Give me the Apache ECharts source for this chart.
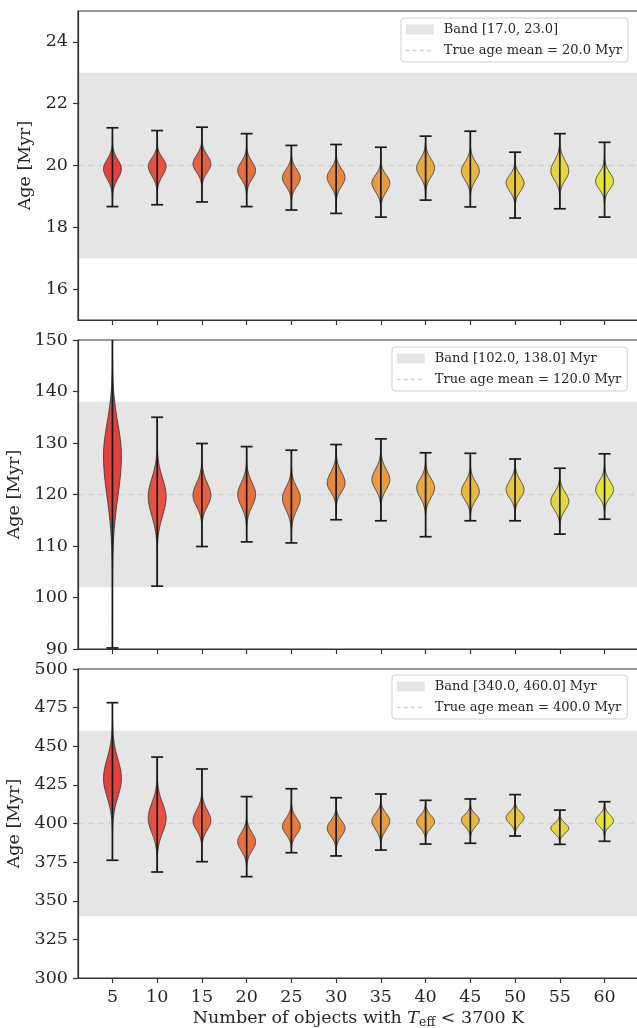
<!DOCTYPE html>
<html>
<head>
<meta charset="utf-8">
<script src="https://cdn.jsdelivr.net/npm/echarts@6/dist/echarts.min.js"></script>
<style>
  html, body { margin: 0; padding: 0; background: #fff; }
  #chart { width: 637px; height: 1028px; }
</style>
</head>
<body>
<div id="chart"></div>
<script>
const FONT = 'DejaVu Serif'
const TXT = '#262626'

// x positions (number of objects)
const counts = [5, 10, 15, 20, 25, 30, 35, 40, 45, 50, 55, 60]

// panel 1: true age 20 Myr
const p1Max = [21.22, 21.13, 21.24, 21.03, 20.65, 20.68, 20.59, 20.95, 21.11, 20.43, 21.03, 20.75]
const p1Min = [18.67, 18.73, 18.82, 18.67, 18.56, 18.45, 18.33, 18.88, 18.66, 18.30, 18.60, 18.33]
const p1Peak = [19.89, 19.98, 20.05, 19.84, 19.60, 19.62, 19.44, 19.92, 19.82, 19.44, 19.82, 19.49]
const p1SdUp = [0.30, 0.26, 0.28, 0.28, 0.27, 0.27, 0.25, 0.29, 0.29, 0.25, 0.33, 0.27]
const p1SdDn = [0.32, 0.31, 0.27, 0.28, 0.27, 0.29, 0.29, 0.29, 0.29, 0.27, 0.29, 0.25]
const p1Band = [17.0, 23.0]
const p1Mean = 20.0
const p1Ticks = [16, 18, 20, 22, 24]

// panel 2: true age 120 Myr
const p2Max = [152, 135.0, 129.9, 129.3, 128.6, 129.7, 130.8, 128.1, 128.0, 126.9, 125.1, 127.9]
const p2Min = [90.2, 102.2, 109.9, 110.8, 110.6, 115.1, 114.9, 111.8, 114.9, 114.9, 112.3, 115.2]
const p2Peak = [127.5, 119.6, 119.8, 120.0, 119.3, 122.2, 122.9, 121.3, 120.6, 120.9, 118.7, 120.9]
const p2SdUp = [6.3, 3.5, 2.4, 2.3, 2.1, 2.1, 2.0, 1.8, 1.8, 1.8, 1.7, 1.7]
const p2SdDn = [7.9, 3.7, 2.1, 2.3, 2.3, 1.7, 1.9, 1.9, 1.7, 1.6, 1.7, 1.5]
const p2Band = [102.0, 138.0]
const p2Mean = 120.0
const p2Ticks = [90, 100, 110, 120, 130, 140, 150]

// panel 3: true age 400 Myr
const p3Max = [478.2, 443.0, 435.3, 417.4, 422.5, 416.7, 419.1, 415.0, 415.9, 418.7, 408.7, 414.1]
const p3Min = [376.2, 368.6, 375.3, 365.6, 381.1, 379.0, 382.8, 386.7, 387.2, 391.9, 386.5, 388.5]
const p3Peak = [429.0, 403.4, 401.8, 388.2, 398.0, 396.9, 401.8, 401.2, 402.3, 403.8, 396.9, 401.8]
const p3SdUp = [12.8, 9.7, 6.8, 5.8, 5.4, 4.9, 4.7, 4.1, 3.6, 3.7, 3.2, 3.8]
const p3SdDn = [11.8, 9.3, 6.0, 5.8, 5.0, 5.0, 5.6, 4.1, 4.1, 3.8, 3.2, 3.5]
const p3Band = [340.0, 460.0]
const p3Mean = 400.0
const p3Ticks = [300, 325, 350, 375, 400, 425, 450, 475, 500]

const violinColors = ['#e53f3e', '#e5523f', '#e5603e', '#e6703f', '#e67d3f', '#e78a40',
  '#e79a40', '#e7a940', '#e6b840', '#e6c73f', '#e5d63f', '#e5e43e']

const X_MIN = 1.15
const X_MAX = 63.85

const panels = [
  { max: p1Max, min: p1Min, peak: p1Peak, up: p1SdUp, dn: p1SdDn, band: p1Band, mean: p1Mean, ticks: p1Ticks,
    yMin: 15, yMax: 25, top: 11, bandName: 'Band [17.0, 23.0]', meanName: 'True age mean = 20.0 Myr',
    legendLeft: 401, legendTop: 18, nameGap: 35 },
  { max: p2Max, min: p2Min, peak: p2Peak, up: p2SdUp, dn: p2SdDn, band: p2Band, mean: p2Mean, ticks: p2Ticks,
    yMin: 90, yMax: 150, top: 340, bandName: 'Band [102.0, 138.0] Myr', meanName: 'True age mean = 120.0 Myr',
    legendLeft: 392, legendTop: 347, nameGap: 46 },
  { max: p3Max, min: p3Min, peak: p3Peak, up: p3SdUp, dn: p3SdDn, band: p3Band, mean: p3Mean, ticks: p3Ticks,
    yMin: 300, yMax: 500, top: 669, bandName: 'Band [340.0, 460.0] Myr', meanName: 'True age mean = 400.0 Myr',
    legendLeft: 392, legendTop: 675, nameGap: 46 },
]

// violin body + min/max bars
function renderViolin(params, api) {
  const x = api.value(0)
  const lo = api.value(1)
  const hi = api.value(2)
  const pk = api.value(3)
  const su = api.value(4)
  const sd = api.value(5)
  const half = api.size([1, 0])[0] // widths = 2 data units
  const ys = []
  const steps = 120
  for (let i = 0; i <= steps; i++) ys.push(lo + (hi - lo) * i / steps)
  ys.push(pk)
  ys.sort((a, b) => a - b)
  const right = []
  const left = []
  ys.forEach((y) => {
    const s = y > pk ? su : sd
    const w = half * Math.exp(-0.5 * Math.pow((y - pk) / s, 2))
    const p = api.coord([x, y])
    right.push([p[0] + w, p[1]])
    left.push([p[0] - w, p[1]])
  })
  const pts = right.concat(left.reverse())
  const pTop = api.coord([x, hi])
  const pBot = api.coord([x, lo])
  const cap = 6
  const lineStyle = { stroke: '#1a1a1a', lineWidth: 1.7 }
  return {
    type: 'group',
    children: [
      { type: 'polygon', shape: { points: pts },
        style: { fill: violinColors[params.dataIndex], stroke: '#3a3a3a', lineWidth: 0.9 } },
      { type: 'line', shape: { x1: pTop[0], y1: pTop[1], x2: pBot[0], y2: pBot[1] }, style: lineStyle },
      { type: 'line', shape: { x1: pTop[0] - cap, y1: pTop[1], x2: pTop[0] + cap, y2: pTop[1] }, style: lineStyle },
      { type: 'line', shape: { x1: pBot[0] - cap, y1: pBot[1], x2: pBot[0] + cap, y2: pBot[1] }, style: lineStyle },
    ],
  }
}

function renderBand(params, api) {
  const a = api.coord([X_MIN, api.value(1)])
  const b = api.coord([X_MAX, api.value(0)])
  return {
    type: 'rect',
    shape: { x: a[0], y: a[1], width: b[0] - a[0], height: b[1] - a[1] },
    style: { fill: '#e5e5e5' },
  }
}

const grid = []
const xAxis = []
const yAxis = []
const series = []
const legend = []

panels.forEach((p, i) => {
  const last = i === panels.length - 1
  grid.push({
    left: 78, width: 561, top: p.top, height: 309,
    containLabel: false, outerBoundsMode: 'none',
    show: true, borderColor: '#333', borderWidth: 1.2, backgroundColor: 'transparent',
  })
  xAxis.push({
    gridIndex: i, type: 'value', min: X_MIN, max: X_MAX, z: 10,
    axisLine: { show: true, lineStyle: { color: '#333', width: 1.2 } },
    axisTick: { show: true, customValues: counts, length: 5, lineStyle: { color: '#333', width: 1.2 } },
    axisLabel: { show: last, customValues: counts, margin: 10, fontFamily: FONT, fontSize: 17.5, color: TXT },
    splitLine: { show: false },
    name: last ? '{a|Number of objects with }{i|T}{s|eff}{a| < 3700 K}' : '',
    nameLocation: 'middle',
    nameGap: 29,
    nameTextStyle: {
      fontFamily: FONT, fontSize: 17.5, color: TXT,
      rich: {
        a: { fontFamily: FONT, fontSize: 17.5, color: TXT },
        i: { fontFamily: FONT, fontSize: 17.5, fontStyle: 'italic', color: TXT },
        s: { fontFamily: FONT, fontSize: 12.5, color: TXT, padding: [9, 0, 0, 0] },
      },
    },
  })
  yAxis.push({
    gridIndex: i, type: 'value', min: p.yMin, max: p.yMax, z: 10,
    name: 'Age [Myr]', nameLocation: 'middle', nameGap: p.nameGap,
    nameTextStyle: { fontFamily: FONT, fontSize: 17.5, color: TXT },
    axisLine: { show: true, lineStyle: { color: '#333', width: 1.2 } },
    axisTick: { show: true, customValues: p.ticks, length: 5, lineStyle: { color: '#333', width: 1.2 } },
    axisLabel: { customValues: p.ticks, margin: 10, fontFamily: FONT, fontSize: 17.5, color: TXT },
    splitLine: { show: false },
  })
  series.push({
    name: p.bandName, type: 'custom', xAxisIndex: i, yAxisIndex: i, z: 1,
    itemStyle: { color: '#e5e5e5' },
    renderItem: renderBand, data: [[p.band[0], p.band[1]]], silent: true,
  })
  series.push({
    name: p.meanName, type: 'line', xAxisIndex: i, yAxisIndex: i, z: 2,
    symbol: 'none', silent: true,
    lineStyle: { color: '#d2d2d2', width: 1.5, type: [6, 4] },
    itemStyle: { color: '#d2d2d2' },
    data: [[X_MIN, p.mean], [X_MAX, p.mean]],
  })
  series.push({
    type: 'custom', xAxisIndex: i, yAxisIndex: i, z: 3, clip: true,
    renderItem: renderViolin,
    data: counts.map((c, k) => [c, p.min[k], p.max[k], p.peak[k], p.up[k], p.dn[k]]),
  })
  legend.push({
    orient: 'vertical', left: p.legendLeft, top: p.legendTop,
    itemWidth: 28, itemHeight: 10, itemGap: 8,
    padding: [5, 6, 5, 4],
    borderColor: '#d0d0d0', borderWidth: 1, borderRadius: 3,
    backgroundColor: 'rgba(255,255,255,0.8)',
    textStyle: { fontFamily: FONT, fontSize: 13, color: TXT, padding: [0, 0, 0, 5] },
    selectedMode: false,
    data: [
      { name: p.bandName, icon: 'rect' },
      { name: p.meanName, itemStyle: { opacity: 0 }, lineStyle: { color: '#d2d2d2', width: 1.5, type: [4, 3] } },
    ],
  })
})

const chart = echarts.init(document.getElementById('chart'))
chart.setOption({
  animation: false,
  backgroundColor: '#fff',
  grid, xAxis, yAxis, series, legend,
})
</script>
</body>
</html>
